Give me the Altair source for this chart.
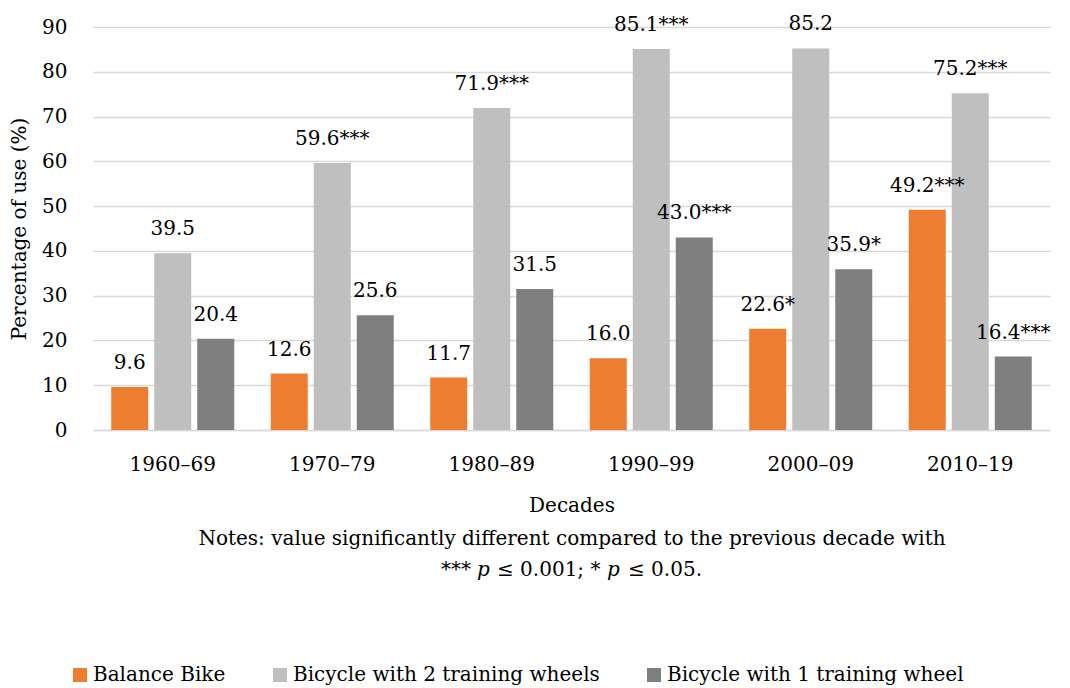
import altair as alt
import pandas as pd

decades = ["1960–69", "1970–79", "1980–89", "1990–99", "2000–09", "2010–19"]
series = ["Balance Bike", "Bicycle with 2 training wheels", "Bicycle with 1 training wheel"]
balance = [9.6, 12.6, 11.7, 16.0, 22.6, 49.2]
two_wheels = [39.5, 59.6, 71.9, 85.1, 85.2, 75.2]
one_wheel = [20.4, 25.6, 31.5, 43.0, 35.9, 16.4]
balance_lbl = ["9.6", "12.6", "11.7", "16.0", "22.6*", "49.2***"]
two_lbl = ["39.5", "59.6***", "71.9***", "85.1***", "85.2", "75.2***"]
one_lbl = ["20.4", "25.6", "31.5", "43.0***", "35.9*", "16.4***"]
colors = ["#ED7D31", "#BFBFBF", "#7F7F7F"]
y_ticks = [0, 10, 20, 30, 40, 50, 60, 70, 80, 90]
note_line1 = "Notes: value significantly different compared to the previous decade with"
note_parts = ["***", "p", "≤ 0.001; *", "p", "≤ 0.05."]

rows = []
for vals, lbls, s in [(balance, balance_lbl, series[0]), (two_wheels, two_lbl, series[1]), (one_wheel, one_lbl, series[2])]:
    for d, v, l in zip(decades, vals, lbls):
        rows.append({"decade": d, "series": s, "value": v, "label": l})
df = pd.DataFrame(rows)

FONT = "DejaVu Serif"
FS = 20

x = alt.X("decade:N", sort=decades, scale=alt.Scale(paddingInner=0, paddingOuter=0),
          axis=alt.Axis(title=["Decades", note_line1],
                        labelAngle=0, labelFontSize=FS, labelPadding=24, labelColor="#000",
                        titleFontSize=FS, titleFontWeight="normal", titleColor="#000",
                        titleLineHeight=33, titlePadding=21,
                        domainColor="#D9D9D9", domainWidth=1.5, ticks=False))
xo = alt.XOffset("series:N", sort=series,
                 scale=alt.Scale(paddingInner=0.14, paddingOuter=0.424))
y = alt.Y("value:Q", scale=alt.Scale(domain=[0, 90], nice=False),
          axis=alt.Axis(values=y_ticks, title="Percentage of use (%)", labelFontSize=FS,
                        labelPadding=26, labelColor="#000", titleFontSize=FS,
                        titleFontWeight="normal", titleColor="#000", titlePadding=12,
                        domain=False, ticks=False, gridColor="#D9D9D9", gridWidth=1.5))

bars = alt.Chart(df).mark_bar().encode(
    x=x, xOffset=xo, y=y,
    color=alt.Color("series:N", sort=series, scale=alt.Scale(domain=series, range=colors),
                    legend=alt.Legend(title=None, orient="none", legendX=-23, legendY=638,
                                      direction="horizontal", columns=3, columnPadding=44,
                                      symbolType="square", symbolSize=196, symbolStrokeWidth=0,
                                      labelFontSize=FS, labelColor="#000", labelOffset=3,
                                      labelLimit=400)),
)
text = alt.Chart(df).mark_text(baseline="bottom", dy=-14, fontSize=FS, color="#000").encode(
    x=x, xOffset=xo, y=y, text="label:N"
)

# second note line, with italic p (positions relative to the plot's left edge)
one = alt.Data(values=[{"k": 0}])
note_x = [348, 384, 404, 514, 535]
note_style = ["normal", "italic", "normal", "italic", "normal"]
note_layers = []
for part, nx, st in zip(note_parts, note_x, note_style):
    note_layers.append(
        alt.Chart(one).mark_text(text=part, align="left", baseline="middle", fontSize=FS,
                                 fontStyle=st, color="#000").encode(
            x=alt.value(nx), y=alt.value(543))
    )

chart = alt.layer(bars, text, *note_layers).properties(
    width=957, height=403,
    autosize=alt.AutoSizeParams(type="none"),
    padding={"left": 85, "top": 19, "right": 12, "bottom": 256},
).configure(font=FONT).configure_view(stroke=None)

chart.save("out.html", embed_options={"renderer": "svg", "actions": False})
